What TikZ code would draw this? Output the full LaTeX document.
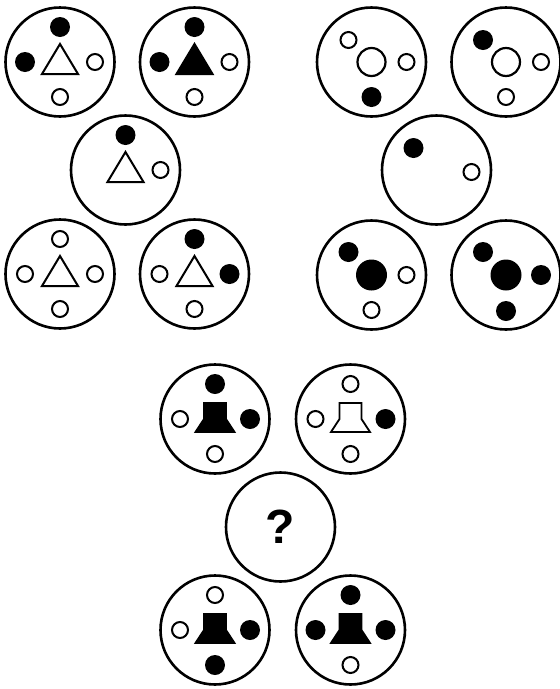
\documentclass[tikz,border=0pt]{standalone}
\usepackage{fontspec}
\setsansfont{Liberation Sans}
\usetikzlibrary{positioning}

\begin{document}
\begin{tikzpicture}[x=1pt,y=-1pt,
  disc/.style={circle,draw,line width=2.6pt,minimum size=109pt,inner sep=0pt},
  full/.style={circle,fill,minimum size=20pt,inner sep=0pt},
  hole/.style={circle,draw,line width=2pt,minimum size=16pt,inner sep=0pt},
  bighole/.style={circle,draw,line width=2.2pt,minimum size=28pt,inner sep=0pt},
  bigfull/.style={circle,fill,minimum size=31pt,inner sep=0pt},
  tri/.style={line width=2pt,line join=miter},
  bell/.style={line width=1.8pt,line join=miter}]
\useasboundingbox (0,0) rectangle (560,689);
% triangles, left group
\node[disc] (a1) at (60,62) {};    \node[disc] (a2) at (194.5,62) {};
\node[disc] (a3) at (125.5,170) {};
\node[disc] (a4) at (60,274) {};   \node[disc] (a5) at (194.5,274) {};
\node[full] (a1t) at ([yshift=35pt]a1.center) {};  \node[full] (a1l) at ([xshift=-35pt]a1.center) {};
\node[hole] (a1r) at ([xshift=35pt]a1.center) {};  \node[hole] (a1b) at ([yshift=-35pt]a1.center) {};
\node[full] (a2t) at ([yshift=35pt]a2.center) {};  \node[full] (a2l) at ([xshift=-35pt]a2.center) {};
\node[hole] (a2r) at ([xshift=35pt]a2.center) {};  \node[hole] (a2b) at ([yshift=-35pt]a2.center) {};
\node[full] (a3t) at ([yshift=35pt]a3.center) {};  \node[hole] (a3r) at ([xshift=35pt]a3.center) {};
\node[hole] (a4t) at ([yshift=35pt]a4.center) {};  \node[hole] (a4l) at ([xshift=-35pt]a4.center) {};
\node[hole] (a4r) at ([xshift=35pt]a4.center) {};  \node[hole] (a4b) at ([yshift=-35pt]a4.center) {};
\node[full] (a5t) at ([yshift=35pt]a5.center) {};  \node[hole] (a5l) at ([xshift=-35pt]a5.center) {};
\node[full] (a5r) at ([xshift=35pt]a5.center) {};  \node[hole] (a5b) at ([yshift=-35pt]a5.center) {};
\draw[tri,shift={(a1)}] (0,-18) -- (18,12) -- (-18,12) -- cycle;
\filldraw[tri,shift={(a2)}] (0,-18) -- (18,12) -- (-18,12) -- cycle;
\draw[tri,shift={(a3)}] (0,-18) -- (18,12) -- (-18,12) -- cycle;
\draw[tri,shift={(a4)}] (0,-18) -- (18,12) -- (-18,12) -- cycle;
\draw[tri,shift={(a5)}] (0,-18) -- (18,12) -- (-18,12) -- cycle;
% rings, right group
\node[disc] (b1) at (371.5,62) {};  \node[disc] (b2) at (506,62) {};
\node[disc] (b3) at (436.5,170) {};
\node[disc] (b4) at (371.5,275) {}; \node[disc] (b5) at (506,275) {};
\node[hole] (b1d) at ([xshift=-23pt,yshift=22pt]b1.center) {}; \node[bighole] (b1c) at (b1.center) {};
\node[hole] (b1r) at ([xshift=35pt]b1.center) {};  \node[full] (b1b) at ([yshift=-35pt]b1.center) {};
\node[full] (b2d) at ([xshift=-23pt,yshift=22pt]b2.center) {}; \node[bighole] (b2c) at (b2.center) {};
\node[hole] (b2r) at ([xshift=35pt]b2.center) {};  \node[hole] (b2b) at ([yshift=-35pt]b2.center) {};
\node[full] (b3d) at ([xshift=-23pt,yshift=22pt]b3.center) {}; \node[hole] (b3r) at ([xshift=35pt,yshift=-2pt]b3.center) {};
\node[full] (b4d) at ([xshift=-23pt,yshift=23pt]b4.center) {}; \node[bigfull] (b4c) at (b4.center) {};
\node[hole] (b4r) at ([xshift=35pt]b4.center) {};  \node[hole] (b4b) at ([yshift=-35pt]b4.center) {};
\node[full] (b5d) at ([xshift=-23pt,yshift=23pt]b5.center) {}; \node[bigfull] (b5c) at (b5.center) {};
\node[full] (b5r) at ([xshift=35pt]b5.center) {};  \node[full] (b5b) at ([yshift=-36pt]b5.center) {};
% bells, bottom group
\node[disc] (c1) at (215,419) {};   \node[disc] (c2) at (350.5,419) {};
\node[disc] (c3) at (280.5,527) {};
\node[disc] (c4) at (215,630) {};   \node[disc] (c5) at (350.5,630) {};
\node[full] (c1t) at ([yshift=35pt]c1.center) {};  \node[hole] (c1l) at ([xshift=-35pt]c1.center) {};
\node[full] (c1r) at ([xshift=35pt]c1.center) {};  \node[hole] (c1b) at ([yshift=-35pt]c1.center) {};
\node[hole] (c2t) at ([yshift=35pt]c2.center) {};  \node[hole] (c2l) at ([xshift=-35pt]c2.center) {};
\node[full] (c2r) at ([xshift=35pt]c2.center) {};  \node[hole] (c2b) at ([yshift=-35pt]c2.center) {};
\node[font=\sffamily\bfseries\fontsize{48}{48}\selectfont] (q) at (c3.center) {?};
\node[hole] (c4t) at ([yshift=35pt]c4.center) {};  \node[hole] (c4l) at ([xshift=-35pt]c4.center) {};
\node[full] (c4r) at ([xshift=35pt]c4.center) {};  \node[full] (c4b) at ([yshift=-35pt]c4.center) {};
\node[full] (c5t) at ([yshift=35pt]c5.center) {};  \node[full] (c5l) at ([xshift=-35pt]c5.center) {};
\node[full] (c5r) at ([xshift=35pt]c5.center) {};  \node[hole] (c5b) at ([yshift=-35pt]c5.center) {};
\filldraw[bell,shift={(c1)}] (-11,-16) -- (11,-16) -- (11,0) -- (19.5,13) -- (-19.5,13) -- (-11,0) -- cycle;
\draw[bell,shift={(c2)}] (-11,-16) -- (11,-16) -- (11,0) -- (19.5,13) -- (-19.5,13) -- (-11,0) -- cycle;
\filldraw[bell,shift={(c4)}] (-11,-16) -- (11,-16) -- (11,0) -- (19.5,13) -- (-19.5,13) -- (-11,0) -- cycle;
\filldraw[bell,shift={(c5)}] (-11,-16) -- (11,-16) -- (11,0) -- (19.5,13) -- (-19.5,13) -- (-11,0) -- cycle;
\end{tikzpicture}
\end{document}
